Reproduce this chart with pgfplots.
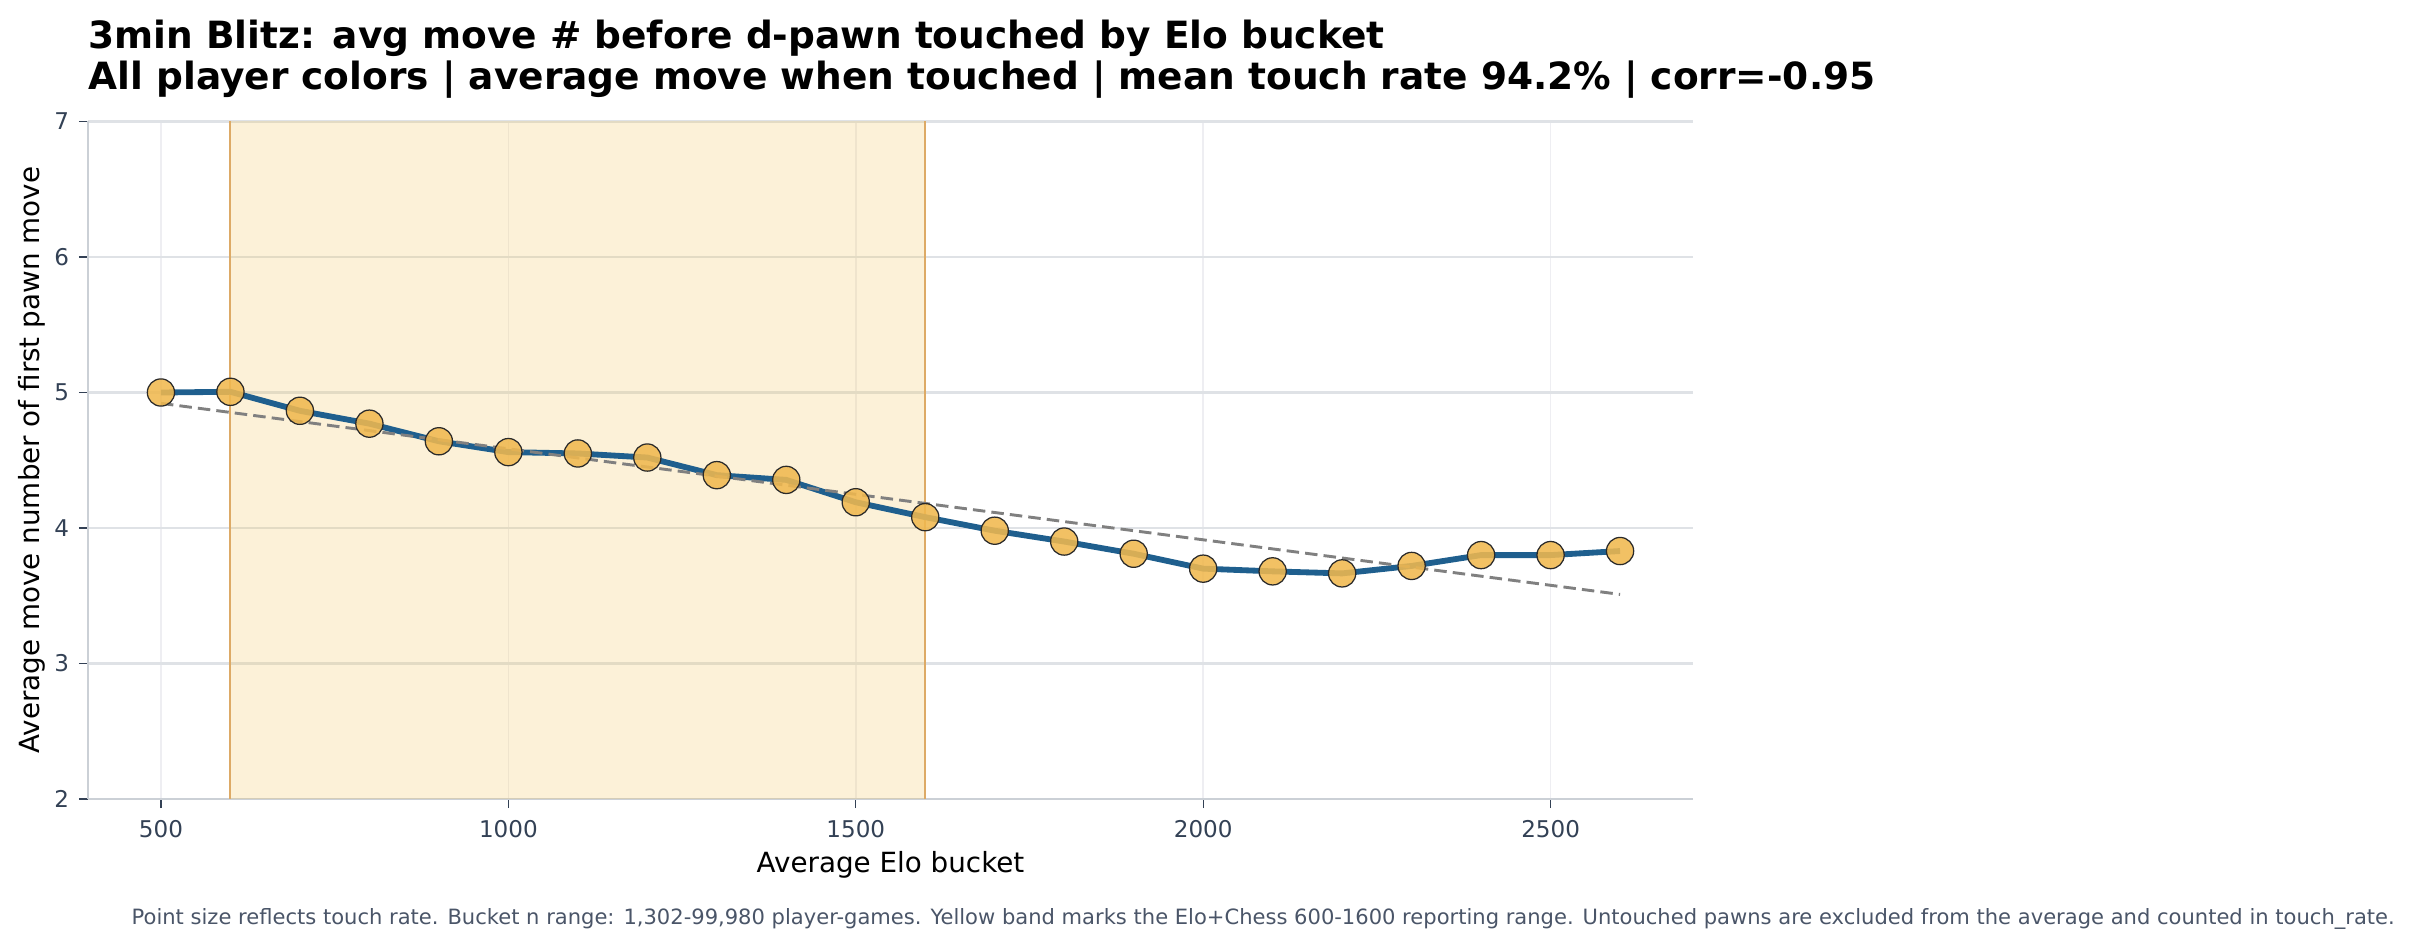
\documentclass[border=0pt]{standalone}
\usepackage{fontspec}
\setmainfont{DejaVu Sans}
\usepackage{pgfplots}
\usepackage{pgfplotstable}
\pgfplotsset{compat=1.18}
\definecolor{bandfill}{HTML}{F3C65A}
\definecolor{bandedge}{HTML}{DDAA66}
\definecolor{linecol}{HTML}{1F5F8E}
\definecolor{markfill}{HTML}{F0B84F}
\definecolor{markedge}{HTML}{2A2A2A}
\definecolor{trendcol}{HTML}{808080}
\definecolor{ticktext}{HTML}{334155}
\definecolor{spine}{HTML}{CBD0D6}
\definecolor{ygrid}{HTML}{DFE2E6}
\definecolor{xgrid}{HTML}{EEEEF2}
\definecolor{notecol}{HTML}{4A5568}

\pgfplotstableread{
elo avg
500 5.00
600 5.005
700 4.865
800 4.77
900 4.64
1000 4.56
1100 4.55
1200 4.52
1300 4.39
1400 4.355
1500 4.19
1600 4.08
1700 3.98
1800 3.90
1900 3.81
2000 3.70
2100 3.68
2200 3.665
2300 3.72
2400 3.80
2500 3.80
2600 3.83
}\datatable

\begin{document}
\begin{tikzpicture}
\draw[white, line width=0pt] (0,0) rectangle (869.04pt,342pt);
\begin{axis}[
 scale only axis,
 width=577.8pt, height=243.9pt,
 at={(31.68pt,54.36pt)}, anchor=south west,
 xmin=395, xmax=2705, ymin=2, ymax=7,
 xtick={500,1000,1500,2000,2500},
 ytick={2,3,4,5,6,7},
 axis lines=left,
 axis line style={-, draw=spine, line width=0.55pt},
 tick align=outside,
 major tick length=3.3pt,
 tick style={draw=ticktext, line width=0.45pt},
 ticklabel style={font=\fontsize{8.3}{9}\selectfont, text=ticktext},
 xticklabel style={yshift=-1.0pt},
 /pgf/number format/assume math mode=true,
 /pgf/number format/set thousands separator={},
 xmajorgrids, ymajorgrids,
 x grid style={draw=xgrid, line width=0.55pt},
 y grid style={draw=ygrid, line width=0.9pt},
 xlabel={Average Elo bucket},
 ylabel={Average move number of first pawn move},
 label style={font=\fontsize{10}{12}\selectfont},
 xlabel style={at={(axis description cs:0.5,0)}, anchor=base, yshift=-26.5pt},
 ylabel style={at={(axis description cs:0,0.5)}, anchor=base, rotate=0, yshift=17.6pt},
]
\addplot[fill=bandfill, fill opacity=0.24, draw=none] coordinates {(600,2) (600,7) (1600,7) (1600,2)};
\addplot[draw=bandedge, line width=0.72pt] coordinates {(600,2) (600,7)};
\addplot[draw=bandedge, line width=0.72pt] coordinates {(1600,2) (1600,7)};
\addplot[linecol, line width=2.1pt, line join=round] table[x=elo, y=avg] {\datatable};
\addplot[trendcol, line width=1.05pt, dash pattern=on 4.5pt off 2.2pt] coordinates {(500,4.92) (2600,3.51)};
\addplot[only marks, mark=*, mark size=4.9pt, mark options={fill=markfill, draw=markedge, line width=0.45pt, fill opacity=0.88}] table[x=elo, y=avg] {\datatable};
\end{axis}
\node[anchor=base west, inner sep=0pt, font=\fontsize{13.5}{16}\selectfont\bfseries] at (31.68pt,324.4pt) {3min Blitz: avg move \# before d-pawn touched by Elo bucket};
\node[anchor=base west, inner sep=0pt, font=\fontsize{13.5}{16}\selectfont\bfseries] at (31.68pt,309.7pt) {All player colors | average move when touched | mean touch rate 94.2\% | corr=-0.95};
\node[anchor=base west, inner sep=0pt, font=\fontsize{7.58}{9}\selectfont, text=notecol] at (47.2pt,9pt) {Point size reflects touch rate. Bucket n range: 1,302-99,980 player-games. Yellow band marks the Elo+Chess 600-1600 reporting range. Untouched pawns are excluded from the average and counted in touch\_rate.};
\end{tikzpicture}
\end{document}
